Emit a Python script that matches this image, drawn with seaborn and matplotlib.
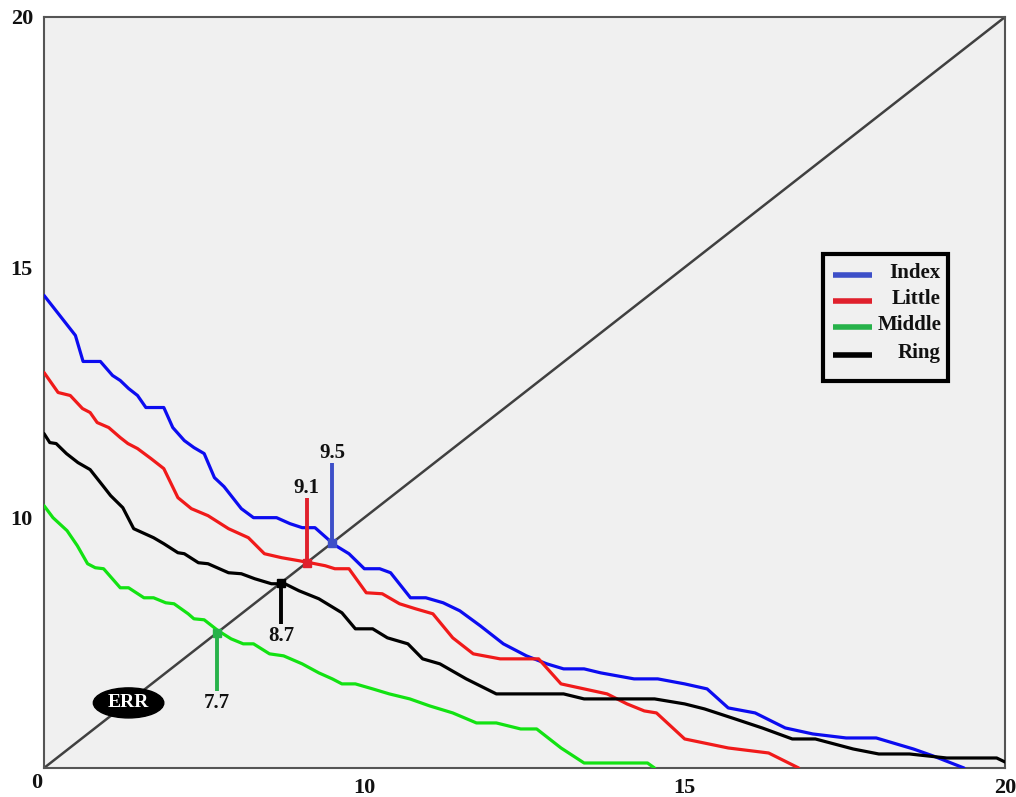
import numpy as np
import pandas as pd
import matplotlib
matplotlib.use("Agg")
import matplotlib.pyplot as plt
from matplotlib.patches import Ellipse, Rectangle
import seaborn as sns

# ---- data ----
index_x = [5.0, 5.49, 5.61, 5.88, 6.07, 6.19, 6.32, 6.46, 6.59, 6.87, 7.01, 7.19, 7.34, 7.5, 7.66, 7.81,
           8.08, 8.27, 8.63, 8.84, 9.03, 9.23, 9.53, 9.76, 10.0, 10.24, 10.41, 10.72, 10.96, 11.23, 11.49,
           11.81, 12.17, 12.53, 12.85, 13.11, 13.43, 13.69, 13.95, 14.21, 14.58, 15.0, 15.35, 15.68, 16.1,
           16.57, 17.0, 17.52, 17.99, 18.57, 18.88, 19.36]
index_y = [14.44, 13.64, 13.12, 13.12, 12.84, 12.74, 12.58, 12.44, 12.2, 12.2, 11.8, 11.54, 11.4, 11.28, 10.8,
           10.62, 10.18, 10.0, 10.0, 9.88, 9.8, 9.8, 9.46, 9.28, 8.98, 8.98, 8.9, 8.4, 8.4, 8.3, 8.14,
           7.84, 7.48, 7.24, 7.08, 6.98, 6.98, 6.9, 6.84, 6.78, 6.78, 6.68, 6.58, 6.2, 6.1,
           5.8, 5.68, 5.6, 5.6, 5.38, 5.24, 5.0]

little_x = [5.0, 5.22, 5.41, 5.6, 5.72, 5.83, 6.01, 6.19, 6.31, 6.46, 6.67, 6.87, 7.09, 7.3, 7.56, 7.88,
            8.19, 8.44, 8.71, 8.98, 9.15, 9.39, 9.54, 9.76, 10.03, 10.28, 10.55, 10.8, 11.07, 11.38, 11.7,
            12.12, 12.72, 13.07, 13.43, 13.79, 14.1, 14.37, 14.56, 15.0, 15.68, 16.31, 16.78]
little_y = [12.9, 12.5, 12.44, 12.18, 12.1, 11.9, 11.8, 11.6, 11.48, 11.38, 11.18, 10.98, 10.4, 10.18, 10.04, 9.78,
            9.6, 9.28, 9.2, 9.14, 9.1, 9.04, 8.98, 8.98, 8.5, 8.48, 8.28, 8.18, 8.08, 7.6, 7.28,
            7.18, 7.18, 6.68, 6.58, 6.48, 6.28, 6.14, 6.1, 5.58, 5.4, 5.3, 5.0]

middle_x = [5.0, 5.14, 5.36, 5.52, 5.68, 5.8, 5.93, 6.19, 6.32, 6.56, 6.71, 6.9, 7.03, 7.25, 7.34, 7.5,
            7.72, 7.92, 8.11, 8.27, 8.52, 8.74, 9.03, 9.29, 9.5, 9.65, 9.86, 10.13, 10.39, 10.71, 11.02,
            11.38, 11.75, 12.06, 12.44, 12.69, 13.07, 13.43, 14.42, 14.53]
middle_y = [10.24, 10.0, 9.74, 9.44, 9.08, 9.0, 8.98, 8.6, 8.6, 8.4, 8.4, 8.3, 8.28, 8.08, 7.98, 7.96,
            7.74, 7.58, 7.48, 7.48, 7.28, 7.24, 7.08, 6.9, 6.78, 6.68, 6.68, 6.58, 6.48, 6.38, 6.24,
            6.1, 5.9, 5.9, 5.78, 5.78, 5.4, 5.1, 5.1, 5.0]

ring_x = [5.0, 5.09, 5.19, 5.35, 5.53, 5.72, 5.93, 6.04, 6.23, 6.4, 6.71, 6.87, 7.09, 7.19, 7.41, 7.56,
          7.88, 8.08, 8.29, 8.55, 8.76, 8.98, 9.29, 9.65, 9.86, 10.13, 10.36, 10.68, 10.91, 11.18, 11.59,
          12.06, 13.11, 13.43, 14.53, 15.0, 15.31, 15.74, 16.21, 16.68, 17.04, 17.63, 18.03, 18.51,
          19.09, 19.87, 20.0]
ring_y = [11.68, 11.5, 11.48, 11.28, 11.1, 10.96, 10.62, 10.44, 10.2, 9.78, 9.6, 9.48, 9.3, 9.28, 9.1, 9.08,
          8.9, 8.88, 8.78, 8.68, 8.68, 8.54, 8.38, 8.1, 7.78, 7.78, 7.6, 7.48, 7.18, 7.08, 6.78,
          6.48, 6.48, 6.38, 6.38, 6.28, 6.18, 6.0, 5.8, 5.58, 5.58, 5.38, 5.28, 5.28,
          5.2, 5.2, 5.12]

fingers = ["Index", "Little", "Middle", "Ring"]
eer_values = [9.5, 9.1, 7.7, 8.7]
eer_labels = ["9.5", "9.1", "7.7", "8.7"]
x_ticks = [10, 15, 20]
x_tick_labels = ["10", "15", "20"]
y_ticks = [10, 15, 20]
y_tick_labels = ["10", "15", "20"]

# ---- styling ----
curve_colors = {"Index": "#0c0cf0", "Little": "#f01a1a", "Middle": "#12e212", "Ring": "#000000"}
mark_colors = {"Index": "#3d4fc8", "Little": "#e0202c", "Middle": "#27b24a", "Ring": "#000000"}
stem_end = {"Index": 11.1, "Little": 10.4, "Middle": 6.54, "Ring": 7.88}
label_y = {"Index": 11.3, "Little": 10.6, "Middle": 6.3, "Ring": 7.64}

sns.set_style("white")
serif = ["Liberation Serif", "DejaVu Serif"]
plt.rcParams["font.family"] = serif
plt.rcParams["font.weight"] = "bold"

W, H = 1016, 797
fig = plt.figure(figsize=(W / 100, H / 100), dpi=100)
L, R, T, B = 44, 1005, 17, 768
ax = fig.add_axes([L / W, 1 - B / H, (R - L) / W, (B - T) / H])
ax.set_facecolor("#f0f0f0")

df = pd.concat([
    pd.DataFrame({"x": index_x, "y": index_y, "finger": "Index"}),
    pd.DataFrame({"x": little_x, "y": little_y, "finger": "Little"}),
    pd.DataFrame({"x": middle_x, "y": middle_y, "finger": "Middle"}),
    pd.DataFrame({"x": ring_x, "y": ring_y, "finger": "Ring"}),
], ignore_index=True)

# diagonal (EER line)
ax.plot([5, 20], [5, 20], color="#404040", lw=1.8, zorder=2)

sns.lineplot(data=df, x="x", y="y", hue="finger", palette=curve_colors, hue_order=fingers,
             estimator=None, sort=False, legend=False, linewidth=2.3, ax=ax, zorder=3)

for f, v, lab in zip(fingers, eer_values, eer_labels):
    c = mark_colors[f]
    ax.plot([v, v], [v, stem_end[f]], color=c, lw=2.8, solid_capstyle="butt", zorder=4)
    ax.plot([v], [v], marker="s", ms=6, color=c, zorder=5)
    ax.text(v, label_y[f], lab, ha="center", va="center", fontsize=15, fontweight="bold",
            color="#111111", zorder=6)

# ERR badge
ax.add_patch(Ellipse((6.32, 6.3), 1.1, 0.6, facecolor="black", edgecolor="black", zorder=6))
ax.text(6.32, 6.3, "ERR", color="white", ha="center", va="center", fontsize=14,
        fontweight="bold", zorder=7)

ax.set_xlim(5, 20)
ax.set_ylim(5, 20)
ax.set_xticks(x_ticks)
ax.set_xticklabels(x_tick_labels)
ax.set_yticks(y_ticks)
ax.set_yticklabels(y_tick_labels)
ax.set_xlabel("")
ax.set_ylabel("")
ax.tick_params(axis="x", direction="in", length=9, width=1, color="#555555", pad=7,
               labelsize=16, labelcolor="#111111")
ax.tick_params(axis="y", direction="in", length=4, width=1, color="#555555", pad=8,
               labelsize=16, labelcolor="#111111")
for lab in ax.get_xticklabels() + ax.get_yticklabels():
    lab.set_fontweight("bold")
for s in ax.spines.values():
    s.set_visible(True)
    s.set_color("#555555")
    s.set_linewidth(1.5)

fig.text(37 / W, 1 - 783 / H, "0", ha="center", va="center", fontsize=16,
         fontweight="bold", color="#111111")

# legend (drawn in figure pixel coordinates converted to fractions)
def fx(px):
    return px / W

def fy(py):
    return 1 - py / H

fig.patches.append(Rectangle((fx(823), fy(381)), fx(948) - fx(823), fy(254) - fy(381),
                             transform=fig.transFigure, facecolor="#f0f0f0", edgecolor="black",
                             linewidth=3, zorder=10))
leg_rows = [275, 301, 327, 355]
for f, py in zip(fingers, leg_rows):
    fig.lines.append(plt.Line2D([fx(833), fx(872)], [fy(py), fy(py)], transform=fig.transFigure,
                                color=mark_colors[f], lw=4, solid_capstyle="butt", zorder=11))
    fig.text(fx(941), fy(py - 2), f, ha="right", va="center", fontsize=15, fontweight="bold",
             color="#111111", zorder=12)

fig.savefig("out.png", dpi=100, facecolor="white")
